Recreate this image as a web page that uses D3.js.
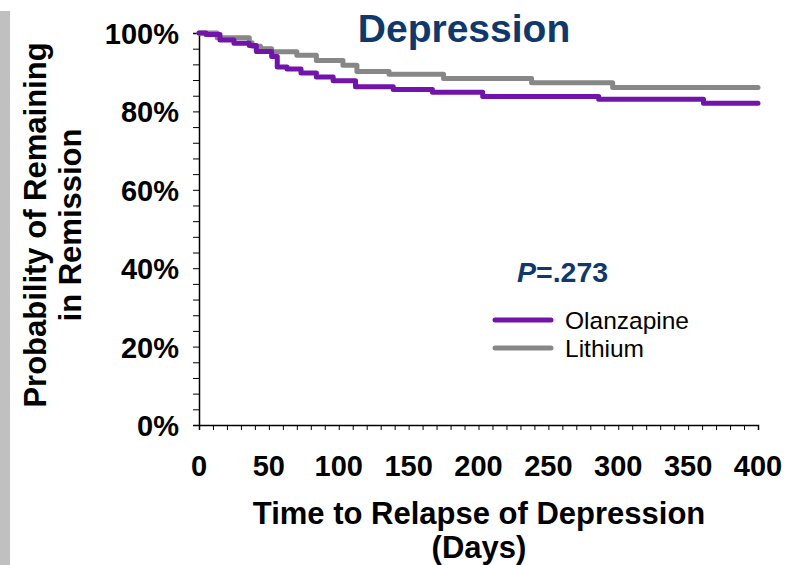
<!DOCTYPE html>
<html><head><meta charset="utf-8">
<script src="https://cdn.jsdelivr.net/npm/d3@7"></script>
<style>
body{margin:0;background:#fff;}
svg{display:block;font-family:"Liberation Sans",Arial,sans-serif;}
</style></head>
<body><svg id="c" width="788" height="565"></svg>
<script>
// Kaplan–Meier step data: [day, % remaining]
const lithiumDays = [0, 13, 36, 38, 44, 52, 70, 84, 103, 113, 136, 175, 238, 296, 400];
const lithiumPct  = [100, 98.8, 97.5, 96.6, 96.0, 95.2, 94.3, 93.0, 91.8, 90.2, 89.5, 88.4, 87.3, 86.1, 86.1];
const olanDays = [0, 5, 15, 25, 36, 41, 52, 56, 63, 73, 84, 96, 112, 139, 167, 203, 286, 361, 400];
const olanPct  = [100, 99.6, 98.2, 97.4, 96.8, 95.3, 94.0, 91.3, 90.8, 89.8, 88.8, 87.8, 86.3, 85.6, 84.9, 83.8, 83.1, 82.1, 82.1];
const xTickLabels = [0, 50, 100, 150, 200, 250, 300, 350, 400];
const yTickLabels = [0, 20, 40, 60, 80, 100];
const seriesNames = ["Olanzapine", "Lithium"];

const svg = d3.select("#c");
const x = d3.scaleLinear().domain([0, 400]).range([199, 758]);
const y = d3.scaleLinear().domain([0, 100]).range([425, 33]);

// left gray bar
svg.append("rect").attr("x", 0).attr("y", 11).attr("width", 10).attr("height", 554).attr("fill", "#c0c0c0");

// title
svg.append("text").attr("x", 464).attr("y", 42).attr("text-anchor", "middle")
  .attr("font-size", 39).attr("font-weight", "bold").attr("fill", "#10386a").text("Depression");

// x axis
const xAxis = d3.axisBottom(x).tickValues(d3.range(0, 401, 10)).tickSize(5).tickFormat("");
const gx = svg.append("g").attr("transform", "translate(0,425)").call(xAxis);
gx.select(".domain").attr("stroke", "#000").attr("stroke-width", 1.5);
gx.selectAll(".tick line").attr("stroke", "#000");
svg.append("g").selectAll("text").data(xTickLabels).join("text")
  .attr("x", d => x(d)).attr("y", 476).attr("text-anchor", "middle")
  .attr("font-size", 29).attr("font-weight", "bold").attr("fill", "#000").text(d => d);

// y axis
const yAxis = d3.axisLeft(y).tickValues(d3.range(0, 101, 4)).tickSize(6).tickFormat("");
const gy = svg.append("g").attr("transform", "translate(199,0)").call(yAxis);
gy.select(".domain").attr("stroke", "#000").attr("stroke-width", 1.5);
gy.selectAll(".tick line").attr("stroke", "#000");
svg.append("g").selectAll("text").data(yTickLabels).join("text")
  .attr("x", 179).attr("y", d => y(d) + 11).attr("text-anchor", "end")
  .attr("font-size", 29).attr("font-weight", "bold").attr("fill", "#000").text(d => d + "%");

// axis titles
const xt = svg.append("text").attr("text-anchor", "middle").attr("font-size", 31).attr("font-weight", "bold").attr("fill", "#000");
xt.append("tspan").attr("x", 479).attr("y", 524).text("Time to Relapse of Depression");
xt.append("tspan").attr("x", 479).attr("y", 558).text("(Days)");
const yt = svg.append("text").attr("text-anchor", "middle").attr("font-size", 31).attr("font-weight", "bold").attr("fill", "#000")
  .attr("transform", "translate(0,225) rotate(-90)");
yt.append("tspan").attr("x", 0).attr("y", 46).text("Probability of Remaining");
yt.append("tspan").attr("x", 0).attr("y", 81).text("in Remission");

// curves
const line = d3.line().x(d => x(d[0])).y(d => y(d[1])).curve(d3.curveStepAfter);
const lith = lithiumDays.map((d, i) => [d, lithiumPct[i]]);
const olan = olanDays.map((d, i) => [d, olanPct[i]]);
const colors = {Olanzapine: "#7214aa", Lithium: "#878787"};
svg.append("path").datum(lith).attr("d", line).attr("fill", "none")
  .attr("stroke", colors.Lithium).attr("stroke-width", 5).attr("stroke-linecap", "round").attr("stroke-linejoin", "round");
svg.append("path").datum(olan).attr("d", line).attr("fill", "none")
  .attr("stroke", colors.Olanzapine).attr("stroke-width", 5).attr("stroke-linecap", "round").attr("stroke-linejoin", "round");

// p-value
const pt = svg.append("text").attr("x", 517).attr("y", 282).attr("font-size", 28.5).attr("font-weight", "bold").attr("fill", "#10386a");
pt.append("tspan").attr("font-style", "italic").text("P");
pt.append("tspan").text("=.273");

// legend
const lg = svg.append("g").selectAll("g").data(seriesNames).join("g")
  .attr("transform", (d, i) => `translate(0,${320 + i * 28})`);
lg.append("line").attr("x1", 495).attr("x2", 551).attr("y1", 0).attr("y2", 0)
  .attr("stroke", d => colors[d]).attr("stroke-width", 5).attr("stroke-linecap", "round");
lg.append("text").attr("x", 565).attr("y", 9).attr("font-size", 24.5).attr("fill", "#000").text(d => d);
</script></body></html>
